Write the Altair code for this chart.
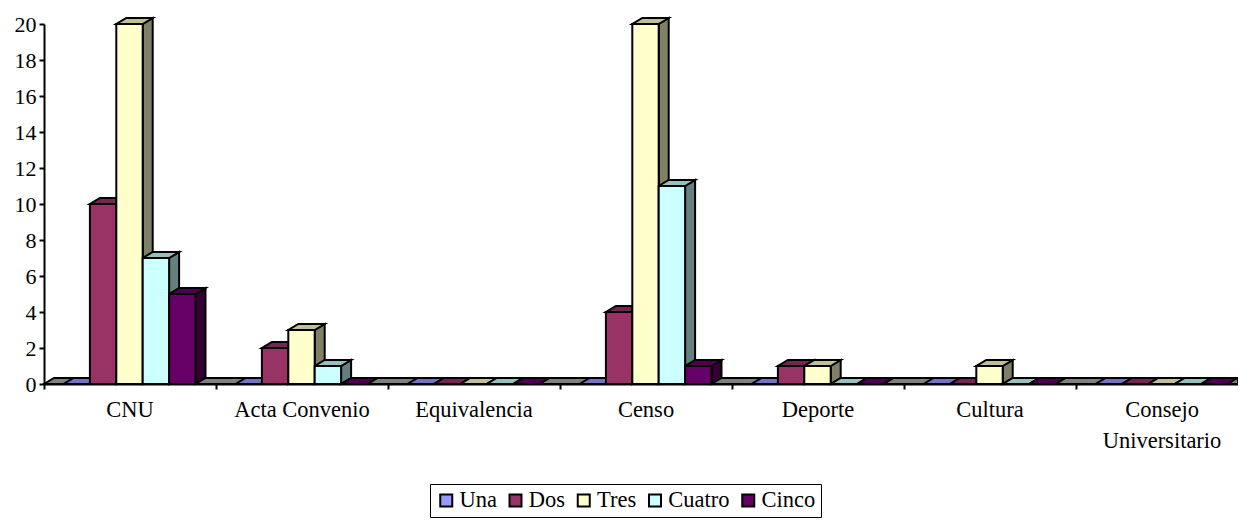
import altair as alt
import pandas as pd

categories = ["CNU", "Acta Convenio", "Equivalencia", "Censo", "Deporte", "Cultura", "Consejo\nUniversitario"]
series = ["Una", "Dos", "Tres", "Cuatro", "Cinco"]
una = [0, 0, 0, 0, 0, 0, 0]
dos = [10, 2, 0, 4, 1, 0, 0]
tres = [20, 3, 0, 20, 1, 1, 0]
cuatro = [7, 1, 0, 11, 0, 0, 0]
cinco = [5, 0, 0, 1, 0, 0, 0]
front_colors = ["#9999FF", "#993366", "#FFFFCC", "#CCFFFF", "#660066"]
top_colors = ["#7373BF", "#732650", "#BFBF99", "#99BFBF", "#4D004D"]
side_colors = ["#4D4D80", "#4D1A33", "#808066", "#668080", "#330033"]
floor_color = "#808080"
values = [una, dos, tres, cuatro, cinco]
y_ticks = [0, 2, 4, 6, 8, 10, 12, 14, 16, 18, 20]

cat_px = 172.0
unit_px = 18.0
depth_x = 10 / cat_px
depth_y = 6 / unit_px
group_start = 19.5 / cat_px
bar_w = (132 / 5) / cat_px
n = len(categories)
plot_w = 1194
x_max = plot_w / cat_px

bars, polys = [], []


def add_poly(pid, color, pts):
    for k, (px, py) in enumerate(pts):
        polys.append({"pid": pid, "k": k, "px": px, "py": py, "fill": color})


add_poly(
    "floor", floor_color,
    [(0, 0), (x_max, 0), (x_max, depth_y), (depth_x, depth_y)],
)

pid = 0
for c in range(n):
    for s, name in enumerate(series):
        v = values[s][c]
        x0 = c + group_start + s * bar_w
        x1 = x0 + bar_w
        bars.append({"series": name, "x0": x0, "x1": x1, "v": v, "base": 0})
        if v > 0:
            add_poly(pid, side_colors[s],
                     [(x1, 0), (x1 + depth_x, depth_y), (x1 + depth_x, v + depth_y), (x1, v)])
            pid += 1
        add_poly(pid, top_colors[s],
                 [(x0, v), (x1, v), (x1 + depth_x, v + depth_y), (x0 + depth_x, v + depth_y)])
        pid += 1

x_scale = alt.Scale(domain=[0, x_max], nice=False, zero=False)
y_scale = alt.Scale(domain=[0, 20], nice=False)

font = "Liberation Serif"

x_axis = alt.Axis(values=list(range(n + 1)), labels=False, title=None, grid=False,
                  tickColor="black", domainColor="black", tickSize=5,
                  tickWidth=2, domainWidth=2)
y_axis = alt.Axis(values=y_ticks, title=None, grid=False,
                  tickColor="black", domainColor="black", tickSize=5, tickWidth=2,
                  domainWidth=2, labelFont=font, labelFontSize=22, labelColor="black",
                  labelPadding=3, labelOverlap=False, labelBound=False, labelFlush=False,
                  labelSeparation=0)

poly_layer = alt.Chart(pd.DataFrame(polys)).mark_line(
    interpolate="linear-closed", stroke="#000000", strokeWidth=2, clip=False, filled=True
).encode(
    x=alt.X("px:Q", scale=x_scale, axis=x_axis),
    y=alt.Y("py:Q", scale=y_scale, axis=y_axis),
    detail="pid:N",
    order="k:Q",
    fill=alt.Fill("fill:N", scale=None),
)

bar_layer = alt.Chart(pd.DataFrame(bars)).mark_bar(
    stroke="#000000", strokeWidth=2, clip=False
).encode(
    x=alt.X("x0:Q", scale=x_scale, axis=x_axis),
    x2="x1:Q",
    y=alt.Y("v:Q", scale=y_scale, axis=y_axis),
    y2="base:Q",
    color=alt.Color(
        "series:N",
        scale=alt.Scale(domain=series, range=front_colors),
        sort=series,
        legend=alt.Legend(
            title=None, orient="none", legendX=386, legendY=460, direction="horizontal",
            columns=5, symbolType="square", symbolSize=144, symbolStrokeColor="black",
            symbolStrokeWidth=2, labelFont=font, labelFontSize=22.5, labelColor="black",
            strokeColor="black", fillColor="white", padding=5, columnPadding=7.25, labelOffset=2,
        ),
    ),
)

label_df = pd.DataFrame({"label": categories, "pos": [i + 0.5 for i in range(n)]})
label_layer = alt.Chart(label_df).mark_text(
    font=font, fontSize=22.5, color="black", lineBreak="\n", lineHeight=31, baseline="alphabetic"
).encode(
    x=alt.X("pos:Q", scale=x_scale, axis=x_axis),
    y=alt.value(393),
    text="label:N",
)

chart = alt.layer(poly_layer, bar_layer, label_layer).properties(
    width=plot_w, height=360,
    padding={"left": 36, "top": 16, "right": 0, "bottom": 140},
    autosize=alt.AutoSizeParams(type="none"),
    background="white",
).configure_view(stroke=None)

chart.save("out.html", embed_options={"renderer": "svg", "actions": False})
